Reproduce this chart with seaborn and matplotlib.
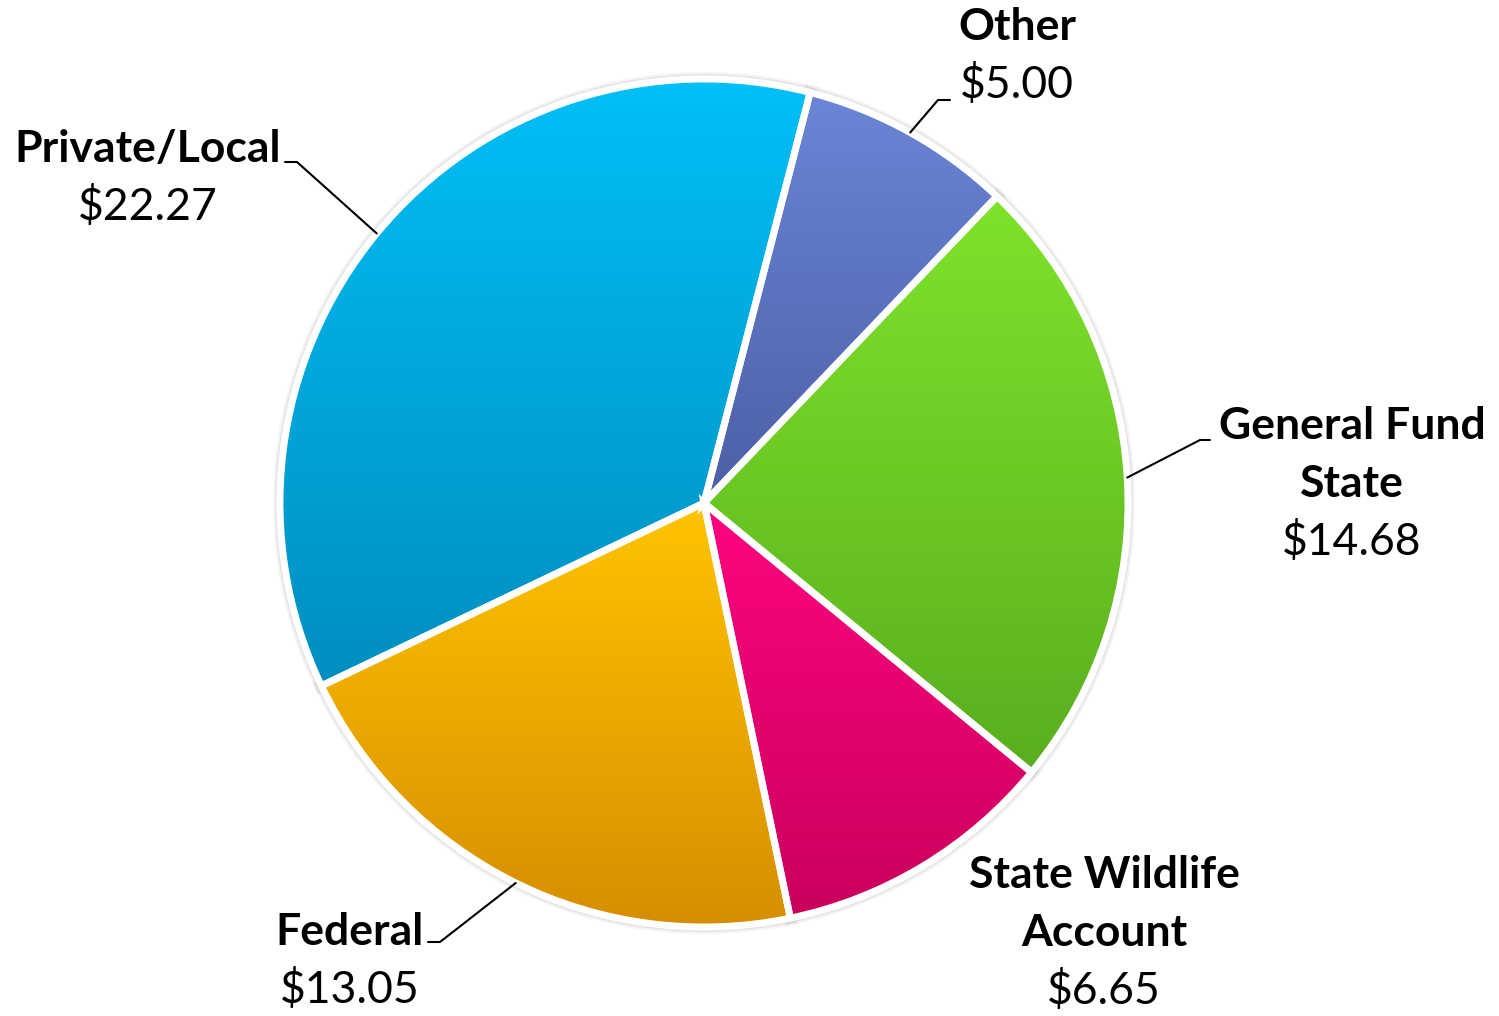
import matplotlib
matplotlib.use("Agg")
import matplotlib.pyplot as plt
from matplotlib.patches import Wedge
import numpy as np
import seaborn as sns

sns.set_theme(style="white")
plt.rcParams["font.family"] = ["Lato", "DejaVu Sans"]

# data (clockwise from the top)
sources = ["Other", "General Fund\nState", "State Wildlife\nAccount", "Federal", "Private/Local"]
amounts = [5.00, 14.68, 6.65, 13.05, 22.27]
top_colors = ["#6A86D6", "#7EE32B", "#FF0580", "#FFC400", "#00BFF7"]
bottom_colors = ["#4C5FA6", "#5AAE1E", "#C9005C", "#D68E00", "#008EC0"]

W, H = 1499, 1016
CX, CY, R = 704, 1016 - 503, 424

fig = plt.figure(figsize=(W / 100, H / 100), dpi=100)
ax = fig.add_axes([0, 0, 1, 1])

wedges, _ = ax.pie(amounts, startangle=75.5, counterclock=False, center=(CX, CY), radius=R,
                   explode=[0.012] * len(amounts), frame=True,
                   wedgeprops=dict(facecolor="none", edgecolor="white", linewidth=5, zorder=3))

for w, c_top, c_bot in zip(wedges, top_colors, bottom_colors):
    # soft grey shadow behind the slice
    for lw, a in [(10, 0.12), (7, 0.18)]:
        sh = Wedge(w.center, w.r, w.theta1, w.theta2, facecolor="#a0a0a0", edgecolor="#a0a0a0",
                   linewidth=lw, alpha=a, zorder=1)
        ax.add_patch(sh)
    # vertical gradient clipped to the slice
    ext = w.get_path().get_extents()
    grad = np.array(sns.blend_palette([c_bot, c_top], n_colors=256))[:, None, :]
    im = ax.imshow(grad, extent=(ext.x0, ext.x1, ext.y0, ext.y1), origin="lower",
                   aspect="auto", interpolation="bilinear", zorder=2)
    im.set_clip_path(w)

# label layout (pixel positions in the picture)
label_pos = [(1017, 56), (1352, 484), (1104, 933), (350, 961), (148, 178)]
leader = [[(938, 100), (950, 100)], [(1200, 440), (1210, 440)], None,
          [(440, 942), (428, 942)], [(297, 162), (285, 162)]]

for w, name, amt, (lx, ly), ld in zip(wedges, sources, amounts, label_pos, leader):
    lines = name.split("\n")
    total = len(lines) + 1
    y0 = ly - 58 * (total - 1) / 2
    for i, ln in enumerate(lines):
        ax.text(lx, H - (y0 + 58 * i), ln, ha="center", va="center", fontsize=32,
                fontweight="bold", color="black", zorder=5)
    ax.text(lx, H - (y0 + 58 * len(lines)), f"${amt:.2f}", ha="center", va="center",
            fontsize=32, color="black", zorder=5)
    if ld is not None:
        mid = np.deg2rad((w.theta1 + w.theta2) / 2)
        ax0 = w.center[0] + w.r * np.cos(mid)
        ay0 = w.center[1] + w.r * np.sin(mid)
        xs = [ax0] + [p[0] for p in ld]
        ys = [ay0] + [H - p[1] for p in ld]
        ax.plot(xs, ys, color="black", linewidth=1.5, zorder=4)

ax.set_xlim(0, W)
ax.set_ylim(0, H)
ax.set_axis_off()
fig.savefig("out.png", dpi=100, facecolor="white")
